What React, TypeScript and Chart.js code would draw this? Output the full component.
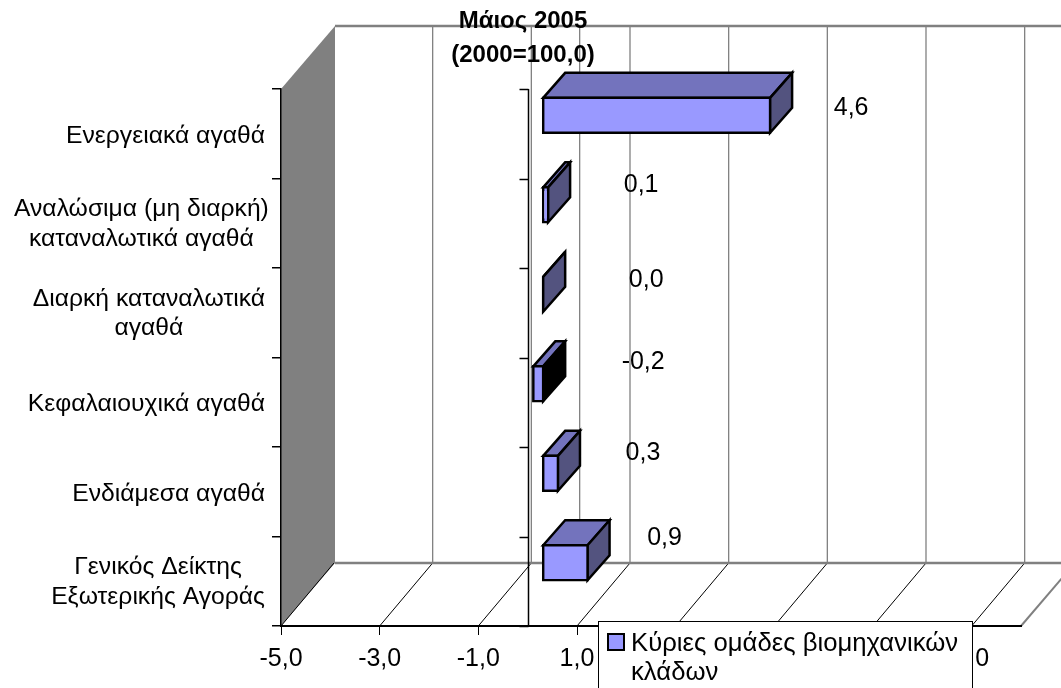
import React, { useEffect, useRef } from "react";
import { Chart, registerables } from "chart.js";

Chart.register(...registerables);

// The first title line is cropped by the top edge of the reference: only the bottoms of
// its descenders show, so its wording here is a stand-in, not text read from the picture.
const titleLines = [
  "Μεταβολές τιμών εισαγωγών στη βιομηχανία από την εξωτερική αγορά",
  "Μάιος 2005",
  "(2000=100,0)",
];
const categories: (string | string[])[] = [
  "Ενεργειακά αγαθά",
  ["Αναλώσιμα (μη διαρκή)", "καταναλωτικά αγαθά"],
  ["Διαρκή καταναλωτικά", "αγαθά"],
  "Κεφαλαιουχικά αγαθά",
  "Ενδιάμεσα αγαθά",
  ["Γενικός Δείκτης", "Εξωτερικής Αγοράς"],
];
const values = [4.6, 0.1, 0.0, -0.2, 0.3, 0.9];
const xTickValues = [-5, -3, -1, 1, 3, 5, 7, 9];
const seriesName = "Κύριες ομάδες βιομηχανικών κλάδων";
const seriesNameLines = ["Κύριες ομάδες βιομηχανικών", "κλάδων"];

const FONT = '"Liberation Sans", Arial, sans-serif';
const comma = (v: number) => v.toFixed(1).replace(".", ",");

// Layout of the pseudo-3D box, in pixels
const WALL = { dx: 54, dy: -63 };
const BAR_INSET = { dx: 15.5, dy: -18.5 };
const BAR_DEPTH = { dx: 22, dy: -25 };
// Hand placement of the value labels relative to the end of each bar / slot centre
const labelNudge = [
  { dx: 81, dy: -26 },
  { dx: 93, dy: -38 },
  { dx: 103, dy: -33 },
  { dx: 100, dy: -40 },
  { dx: 85, dy: -39 },
  { dx: 77, dy: -43 },
];

const poly = (ctx: CanvasRenderingContext2D, pts: number[][], fill?: string, stroke?: string, lw = 1) => {
  ctx.beginPath();
  pts.forEach(([x, y], i) => (i ? ctx.lineTo(x, y) : ctx.moveTo(x, y)));
  ctx.closePath();
  if (fill) {
    ctx.fillStyle = fill;
    ctx.fill();
  }
  if (stroke) {
    ctx.strokeStyle = stroke;
    ctx.lineWidth = lw;
    ctx.lineJoin = "miter";
    ctx.stroke();
  }
};
const seg = (ctx: CanvasRenderingContext2D, x1: number, y1: number, x2: number, y2: number, c: string, lw: number) => {
  ctx.beginPath();
  ctx.moveTo(x1, y1);
  ctx.lineTo(x2, y2);
  ctx.strokeStyle = c;
  ctx.lineWidth = lw;
  ctx.stroke();
};

const boxPlugin = {
  id: "box3d",
  // Walls go under the title, whose lines overlap the back wall in the reference
  beforeDraw(chart: any) {
    const { ctx, chartArea: a, scales } = chart;
    const { left, right, top, bottom } = a;
    const GREY = "#808080";
    ctx.save();
    poly(ctx, [
      [left, top],
      [left + WALL.dx, top + WALL.dy],
      [left + WALL.dx, bottom + WALL.dy],
      [left, bottom],
    ], GREY);
    scales.x.ticks.forEach((t: any) => {
      const x = scales.x.getPixelForValue(t.value);
      if (t.value !== scales.x.min) {
        seg(ctx, x + WALL.dx - 1, top + WALL.dy, x + WALL.dx - 1, bottom + WALL.dy, GREY, 1.3);
      }
      seg(ctx, x, bottom, x + WALL.dx - 1, bottom + WALL.dy, "#000000", 1);
    });
    // the crossing value also has a line on the back wall
    const zeroBack = scales.x.getPixelForValue(0) + WALL.dx - 2;
    seg(ctx, zeroBack, top + WALL.dy, zeroBack, bottom + WALL.dy, GREY, 1.3);
    seg(ctx, left + WALL.dx, top + WALL.dy, right + WALL.dx, top + WALL.dy, GREY, 2.5);
    seg(ctx, left + WALL.dx, bottom + WALL.dy, right + WALL.dx, bottom + WALL.dy, GREY, 2.5);
    seg(ctx, right, bottom, right + WALL.dx, bottom + WALL.dy, GREY, 2);
    ctx.restore();
  },
  beforeDatasetsDraw(chart: any) {
    const { ctx, chartArea: a, scales } = chart;
    const { top, bottom } = a;
    ctx.save();
    const zero = Math.round(scales.x.getPixelForValue(0)) + 0.5;
    seg(ctx, zero, top, zero, bottom, "#000000", 1.5);
    const n = categories.length;
    for (let i = 0; i <= n; i++) {
      const y = Math.round(top + ((bottom - top) * i) / n) + 0.5;
      seg(ctx, zero - 9, y, zero, y, "#000000", 1.5);
    }
    ctx.font = `24.7px ${FONT}`;
    ctx.fillStyle = "#000000";
    ctx.textAlign = "center";
    ctx.textBaseline = "middle";
    categories.forEach((label, i) => {
      const lines = Array.isArray(label) ? label : [label];
      const w = Math.max(...lines.map((l) => ctx.measureText(l).width));
      const blockLeft = Math.max(14, 265 - w);
      const yc = scales.y.getPixelForValue(i);
      const shift = lines.length === 1 ? 2 : 1;
      lines.forEach((l, k) => {
        ctx.fillText(l, blockLeft + w / 2, yc + shift + (k - (lines.length - 1) / 2) * 29.5);
      });
    });
    ctx.restore();
  },
  beforeDatasetDraw(chart: any) {
    const { ctx } = chart;
    const els = chart.getDatasetMeta(0).data;
    ctx.save();
    ctx.translate(BAR_INSET.dx, BAR_INSET.dy);
    els.forEach((el: any, i: number) => {
      const lo = Math.min(el.x, el.base);
      const hi = Math.max(el.x, el.base);
      const t = el.y - el.height / 2;
      const b = el.y + el.height / 2;
      poly(ctx, [
        [lo, t],
        [lo + BAR_DEPTH.dx, t + BAR_DEPTH.dy],
        [hi + BAR_DEPTH.dx, t + BAR_DEPTH.dy],
        [hi, t],
      ], "#7373BD", "#000000", 2.5);
      poly(ctx, [
        [hi, t],
        [hi + BAR_DEPTH.dx, t + BAR_DEPTH.dy],
        [hi + BAR_DEPTH.dx, b + BAR_DEPTH.dy],
        [hi, b],
      ], values[i] < 0 ? "#000000" : "#53537F", "#000000", 2.5);
    });
  },
  afterDatasetDraw(chart: any) {
    chart.ctx.restore();
  },
  afterDatasetsDraw(chart: any) {
    const { ctx, scales } = chart;
    const els = chart.getDatasetMeta(0).data;
    ctx.save();
    ctx.font = `25px ${FONT}`;
    ctx.fillStyle = "#000000";
    ctx.textAlign = "center";
    ctx.textBaseline = "middle";
    els.forEach((el: any, i: number) => {
      const end = Math.max(el.x, el.base) + BAR_INSET.dx;
      ctx.fillText(comma(values[i]), end + labelNudge[i].dx, scales.y.getPixelForValue(i) + labelNudge[i].dy);
    });
    ctx.restore();
  },
  afterDraw(chart: any) {
    const { ctx } = chart;
    ctx.save();
    ctx.fillStyle = "#ffffff";
    ctx.fillRect(598.5, 621.5, 374, 80);
    ctx.strokeStyle = "#000000";
    ctx.lineWidth = 1;
    ctx.strokeRect(598.5, 621.5, 374, 80);
    ctx.fillStyle = "#9999FF";
    ctx.fillRect(608, 634, 16, 16);
    ctx.lineWidth = 2;
    ctx.strokeRect(608, 634, 16, 16);
    ctx.font = `25.7px ${FONT}`;
    ctx.fillStyle = "#000000";
    ctx.textAlign = "left";
    ctx.textBaseline = "alphabetic";
    seriesNameLines.forEach((l, i) => ctx.fillText(l, 631, 651 + i * 29));
    ctx.restore();
  },
};

export default function App() {
  const ref = useRef<HTMLCanvasElement>(null);
  useEffect(() => {
    const chart = new Chart(ref.current!, {
      type: "bar",
      data: {
        labels: categories as any,
        datasets: [
          {
            label: seriesName,
            data: values,
            backgroundColor: "#9999FF",
            borderColor: "#000000",
            borderWidth: 2.5,
            borderSkipped: false,
            inflateAmount: 1.25,
            barPercentage: 0.39,
            categoryPercentage: 1,
            clip: false as any,
          },
        ],
      },
      plugins: [boxPlugin],
      options: {
        indexAxis: "y",
        responsive: false,
        animation: false,
        layout: { padding: { left: 25, right: 40 } },
        plugins: {
          legend: { display: false },
          tooltip: { enabled: false },
          title: {
            display: true,
            text: titleLines,
            color: "#000000",
            align: "center",
            font: { family: FONT, size: 24, weight: "bold", lineHeight: 1.396 },
            padding: { top: -28.5, bottom: 17 },
          },
        },
        scales: {
          x: {
            type: "linear",
            min: -5,
            max: 10,
            afterBuildTicks: (s: any) => {
              s.ticks = xTickValues.map((value) => ({ value }));
            },
            afterFit: (s: any) => {
              s.height = 62;
            },
            border: { display: true, color: "#000000", width: 2 },
            grid: { drawOnChartArea: false, drawTicks: true, tickLength: 9, color: "#000000", lineWidth: 1 },
            ticks: {
              autoSkip: false,
              maxRotation: 0,
              padding: 9,
              color: "#000000",
              font: { family: FONT, size: 25 },
              callback: (v: any) => comma(Number(v)),
            },
          },
          y: {
            type: "category",
            afterFit: (s: any) => {
              s.width = 256;
            },
            border: { display: true, color: "#000000", width: 1.5 },
            grid: { offset: true, drawOnChartArea: false, drawTicks: true, tickLength: 9, color: "#000000", lineWidth: 1.5 },
            ticks: { display: false },
          },
        },
      } as any,
    });
    return () => chart.destroy();
  }, []);
  return (
    <canvas
      ref={ref}
      width={1061}
      height={688}
      style={{ position: "absolute", left: 0, top: 0, display: "block", background: "#ffffff" }}
    />
  );
}
